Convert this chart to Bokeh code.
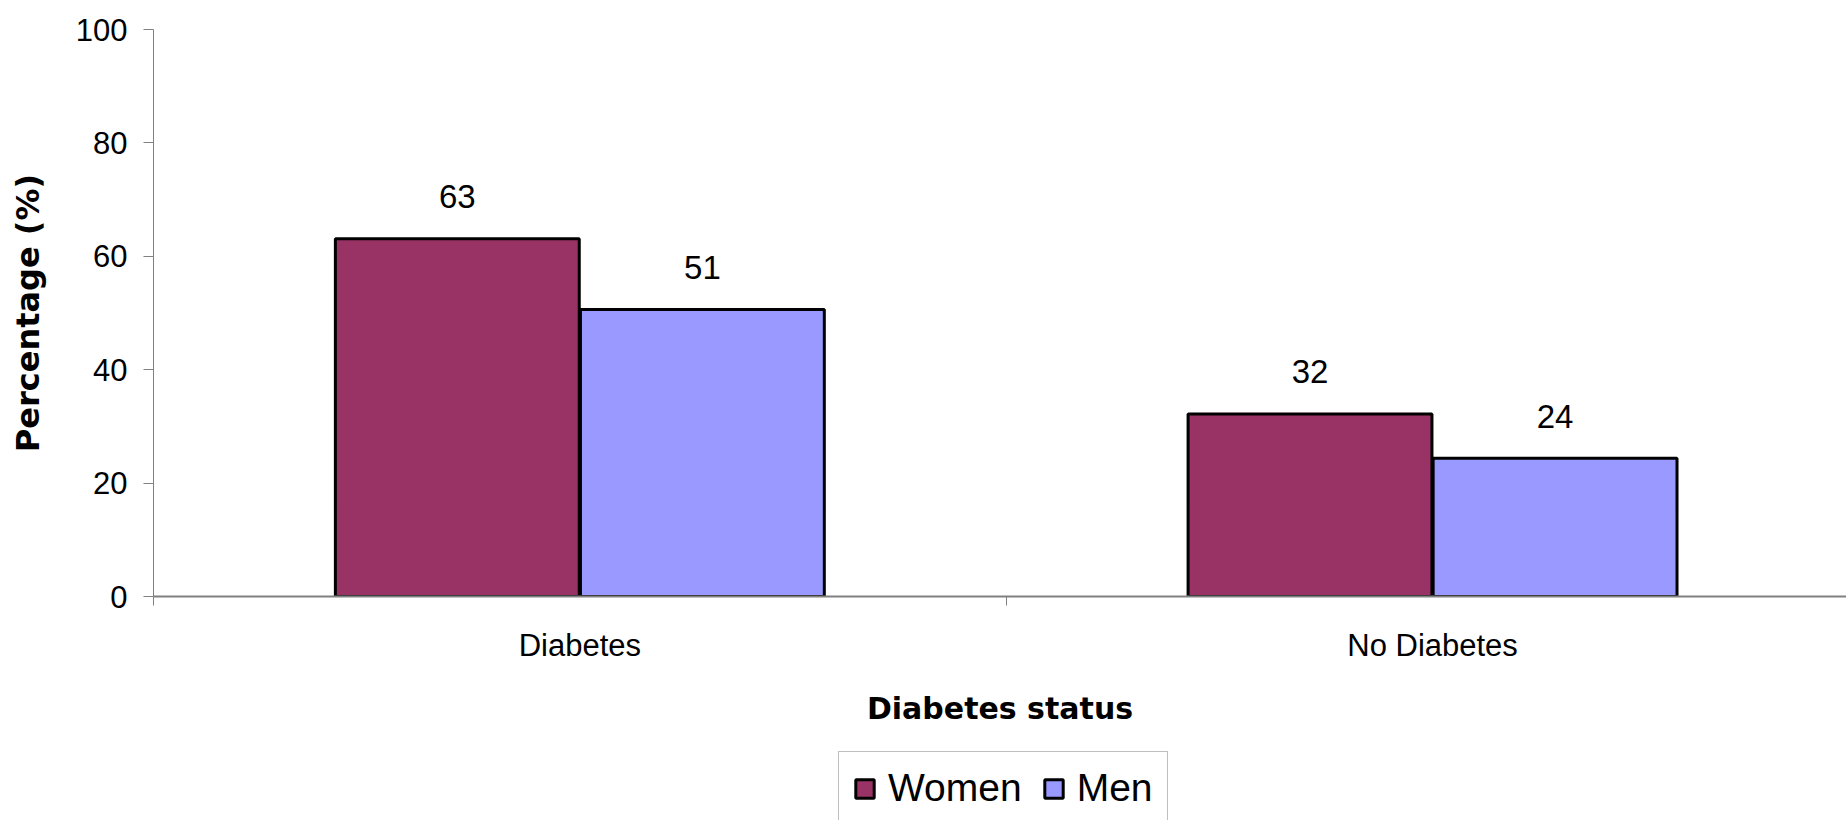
import numpy as np
from bokeh.plotting import figure
from bokeh.layouts import column
from bokeh.models import Range1d, FixedTicker, Legend, LegendItem, ColumnDataSource
from bokeh.core.properties import value
from bokeh.embed import file_html
from bokeh.resources import INLINE

# ---- data ----
categories = ["Diabetes", "No Diabetes"]
series_names = ["Women", "Men"]
women = [63.1, 32.2]
men = [50.6, 24.4]
y_ticks = [0, 20, 40, 60, 80, 100]
x_title = "Diabetes status"
y_title = "Percentage (%)"

# ---- styles ----
colors = ["#993366", "#9999FF"]
bar_w = 0.286
off = 0.1437

cat_x = np.arange(len(categories)) + 0.5

MAIN_H = 740
p = figure(width=1846, height=MAIN_H, output_backend="svg", toolbar_location=None,
           x_range=Range1d(0, 1693 / 852.7), y_range=Range1d(0, 100),
           min_border_left=153, min_border_right=0, min_border_top=29,
           min_border_bottom=MAIN_H - 596)
p.outline_line_color = None
p.xgrid.visible = False
p.ygrid.visible = False
p.background_fill_color = "white"
p.border_fill_color = "white"

for i, (vals, col) in enumerate(zip([women, men], colors)):
    xs = cat_x + (-off if i == 0 else off)
    src = ColumnDataSource(dict(x=xs, top=vals, lab=[f"{v:.0f}" for v in vals]))
    p.vbar(x="x", top="top", bottom=0, width=bar_w, source=src,
           fill_color=col, line_color="black", line_width=3)
    p.text(x="x", y="top", text="lab", source=src, text_font=value("Liberation Sans"),
           text_font_size="33px", text_align="center", text_baseline="alphabetic",
           y_offset=-42, text_color="black")

# x axis
xa = p.xaxis[0]
xa.ticker = FixedTicker(ticks=list(cat_x), minor_ticks=[0, 1, 2])
xa.major_label_overrides = {float(x): c for x, c in zip(cat_x, categories)}
xa.major_tick_line_color = None
xa.major_tick_out = 0
xa.major_tick_in = 0
xa.minor_tick_out = 9
xa.minor_tick_in = 0
xa.minor_tick_line_color = "#808080"
xa.axis_line_color = "#808080"
xa.axis_line_width = 2
xa.major_label_text_font = "Liberation Sans"
xa.major_label_text_font_size = "31px"
xa.major_label_text_color = "black"
xa.major_label_standoff = 22
xa.axis_label = x_title
xa.axis_label_text_font = "DejaVu Sans"
xa.axis_label_text_font_style = "bold"
xa.axis_label_text_font_size = "30px"
xa.axis_label_text_color = "black"
xa.axis_label_standoff = 25

# y axis
ya = p.yaxis[0]
ya.ticker = FixedTicker(ticks=y_ticks)
ya.major_tick_out = 10
ya.major_tick_in = 0
ya.major_tick_line_color = "#808080"
ya.minor_tick_line_color = None
ya.axis_line_color = "#808080"
ya.axis_line_width = 1
ya.major_label_text_font = "Liberation Sans"
ya.major_label_text_font_size = "31px"
ya.major_label_text_color = "black"
ya.major_label_standoff = 16
ya.axis_label = y_title
ya.axis_label_text_font = "DejaVu Sans"
ya.axis_label_text_font_style = "bold"
ya.axis_label_text_font_size = "32px"
ya.axis_label_text_color = "black"
ya.axis_label_standoff = 26

# ---- legend strip below ----
LEG_H = 820 - MAIN_H
p2 = figure(width=1846, height=LEG_H, output_backend="svg", toolbar_location=None,
            x_range=Range1d(0, 1), y_range=Range1d(0, 1),
            min_border=0, min_border_left=0, min_border_right=0,
            min_border_top=0, min_border_bottom=0)
p2.axis.visible = False
p2.grid.visible = False
p2.outline_line_color = None
p2.background_fill_color = "white"
p2.border_fill_color = "white"
leg_r = []
for c in colors:
    r = p2.vbar(x=[0.5], top=[0], bottom=0, width=0.1, fill_color=c,
                line_color="black", line_width=3)
    r.visible = False
    leg_r.append(r)
legend = Legend(items=[LegendItem(label=n, renderers=[r]) for n, r in zip(series_names, leg_r)],
                orientation="horizontal", location=(685, -5),
                label_text_font="Liberation Sans", label_text_font_size="39px",
                label_text_color="black",
                glyph_width=23, glyph_height=23, label_standoff=12, spacing=20,
                padding=14, margin=0, border_line_color="#808080", border_line_width=1,
                background_fill_color="white", background_fill_alpha=1.0,
                inactive_fill_alpha=0.0)
p2.add_layout(legend, "center")

layout = column(p, p2, spacing=0)
open("out.html", "w").write(file_html(layout, INLINE))
